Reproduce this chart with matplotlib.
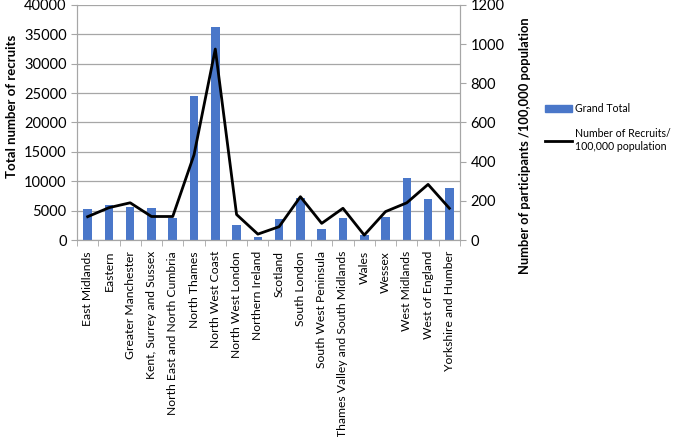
import numpy as np
import matplotlib
matplotlib.use("Agg")
import matplotlib.pyplot as plt
from matplotlib.lines import Line2D
from matplotlib.patches import Patch

plt.rcParams['font.family'] = ['Lato', 'DejaVu Sans']

regioes = ['East Midlands', 'Eastern', 'Greater Manchester', 'Kent, Surrey and Sussex',
           'North East and North Cumbria', 'North Thames', 'North West Coast',
           'North West London', 'Northern Ireland', 'Scotland', 'South London',
           'South West Peninsula', 'Thames Valley and South Midlands', 'Wales',
           'Wessex', 'West Midlands', 'West of England', 'Yorkshire and Humber']
grand_total = [5300, 6000, 5600, 5400, 3700, 24500, 36300, 2600, 550, 3550, 7100,
               1850, 3800, 800, 3850, 10500, 6900, 8900]
por_100k = [119, 165, 190, 120, 120, 435, 975, 130, 30, 68, 221, 85, 162, 25,
            145, 190, 284, 162]

azul = '#4A77C9'
cinza = '#A6A6A6'

fig = plt.figure(figsize=(6.73, 4.37), dpi=100)
ax = fig.add_axes([0.1144, 0.4508, 0.5691, 0.5378])
ax2 = ax.twinx()

x = np.arange(len(regioes))
ax.bar(x, grand_total, width=0.4, color=azul, zorder=2)
ax2.plot(x, por_100k, color='black', lw=2, zorder=3)

ax.set_xlim(-0.5, len(regioes) - 0.5)
ax.set_ylim(0, 40000)
ax2.set_ylim(0, 1200)
ax.set_yticks(np.arange(0, 40001, 5000))
ax2.set_yticks(np.arange(0, 1201, 200))
ax.yaxis.grid(True, color=cinza, lw=0.9, zorder=0)
ax.set_axisbelow(True)

ax.set_xticks(x)
ax.set_xticklabels(regioes, rotation=90, fontsize=8.7)
ax.tick_params(axis='x', length=0, pad=8)
ax.set_xticks(np.arange(-0.5, len(regioes), 1), minor=True)
ax.tick_params(axis='x', which='minor', length=4, color=cinza)
ax.tick_params(axis='y', labelsize=10.5, length=4, color=cinza)
ax2.tick_params(axis='y', labelsize=10.5, length=4, color=cinza)

for a in (ax, ax2):
    a.spines['top'].set_visible(False)
    for s in ('left', 'right', 'bottom'):
        a.spines[s].set_color(cinza)

ax.set_ylabel('Total number of recruits', fontsize=9.5, fontweight='bold')
ax.yaxis.set_label_coords(-0.155, 0.57)
ax2.set_ylabel('Number of participants /100,000 population', fontsize=9.3,
               fontweight='bold')
ax2.yaxis.set_label_coords(1.155, 0.40)

handles = [Patch(color=azul, label='Grand Total'),
           Line2D([0], [0], color='black', lw=2, label='Number of Recruits/\n100,000 population')]
fig.legend(handles=handles, loc='upper left', bbox_to_anchor=(0.795, 0.785),
           frameon=False, fontsize=7.6, handlelength=2.6, labelspacing=1.3,
           handletextpad=0.3)

fig.savefig('out.png', dpi=100)
